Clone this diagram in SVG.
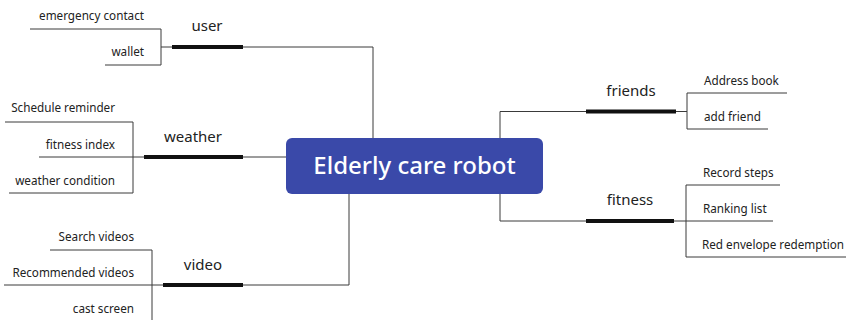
<svg xmlns="http://www.w3.org/2000/svg" width="846" height="320" viewBox="0 0 846 320">
  <style>
    .ln { fill: none; stroke: #3a3a3a; stroke-width: 1; }
    .bar { stroke: #111; stroke-width: 4; }
    .topic { font-family: "Noto Sans", "Liberation Sans", sans-serif; font-size: 15px; fill: #222; text-anchor: middle; }
    .leaf { font-family: "Noto Sans", "Liberation Sans", sans-serif; font-size: 11.7px; fill: #222; }
    .r { text-anchor: end; }
    .root-text { font-family: "Noto Sans", "Liberation Sans", sans-serif; font-size: 24px; font-weight: 500; fill: #fff; text-anchor: middle; }
  </style>

  <!-- connectors -->
  <g id="connectors">
    <!-- root to main topics -->
    <polyline class="ln" points="373,138 373,47 243,47"/>
    <polyline class="ln" points="286,157 243,157"/>
    <polyline class="ln" points="349,194 349,285 243,285"/>
    <polyline class="ln" points="500,138 500,111.5 586,111.5"/>
    <polyline class="ln" points="500,194 500,221 586,221"/>

    <!-- user subtopics -->
    <polyline class="ln" points="172,47 161,47"/>
    <polyline class="ln" points="30,29 161,29 161,65 105,65"/>

    <!-- weather subtopics -->
    <polyline class="ln" points="5,122 133,122 133,193 9,193"/>
    <polyline class="ln" points="39,157 144,157"/>

    <!-- video subtopics -->
    <polyline class="ln" points="50,250 152,250 152,320"/>
    <polyline class="ln" points="4,285 163,285"/>

    <!-- friends subtopics -->
    <polyline class="ln" points="676,111.5 687,111.5"/>
    <polyline class="ln" points="787,93 687,93 687,129 768,129"/>

    <!-- fitness subtopics -->
    <polyline class="ln" points="686,257 686,185 780,185"/>
    <polyline class="ln" points="674,221 773,221"/>
    <polyline class="ln" points="686,257 846,257"/>
  </g>

  <!-- root -->
  <g id="root">
    <rect x="286" y="138" width="257" height="56" rx="6" fill="#3a49a9"/>
    <text class="root-text" x="414.5" y="174">Elderly care robot</text>
  </g>

  <!-- main topics -->
  <g id="user">
    <line class="bar" x1="172" y1="47" x2="243" y2="47"/>
    <text class="topic" x="207" y="31">user</text>
  </g>
  <g id="weather">
    <line class="bar" x1="144" y1="157" x2="243" y2="157"/>
    <text class="topic" x="193" y="142">weather</text>
  </g>
  <g id="video">
    <line class="bar" x1="163" y1="285" x2="243" y2="285"/>
    <text class="topic" x="203" y="270">video</text>
  </g>
  <g id="friends">
    <line class="bar" x1="586" y1="111.5" x2="676" y2="111.5"/>
    <text class="topic" x="631" y="96">friends</text>
  </g>
  <g id="fitness">
    <line class="bar" x1="586" y1="221" x2="674" y2="221"/>
    <text class="topic" x="630" y="205">fitness</text>
  </g>

  <!-- subtopics -->
  <g id="emergency-contact"><text class="leaf r" x="144" y="20">emergency contact</text></g>
  <g id="wallet"><text class="leaf r" x="144" y="56">wallet</text></g>

  <g id="schedule-reminder"><text class="leaf r" x="115" y="112">Schedule reminder</text></g>
  <g id="fitness-index"><text class="leaf r" x="115" y="149">fitness index</text></g>
  <g id="weather-condition"><text class="leaf r" x="115" y="185">weather condition</text></g>

  <g id="search-videos"><text class="leaf r" x="134" y="241">Search videos</text></g>
  <g id="recommended-videos"><text class="leaf r" x="134" y="277">Recommended videos</text></g>
  <g id="cast-screen"><text class="leaf r" x="134" y="313">cast screen</text></g>

  <g id="address-book"><text class="leaf" x="704" y="85">Address book</text></g>
  <g id="add-friend"><text class="leaf" x="704" y="121">add friend</text></g>

  <g id="record-steps"><text class="leaf" x="703" y="177">Record steps</text></g>
  <g id="ranking-list"><text class="leaf" x="703" y="213">Ranking list</text></g>
  <g id="red-envelope"><text class="leaf" x="702" y="249">Red envelope redemption</text></g>
</svg>
